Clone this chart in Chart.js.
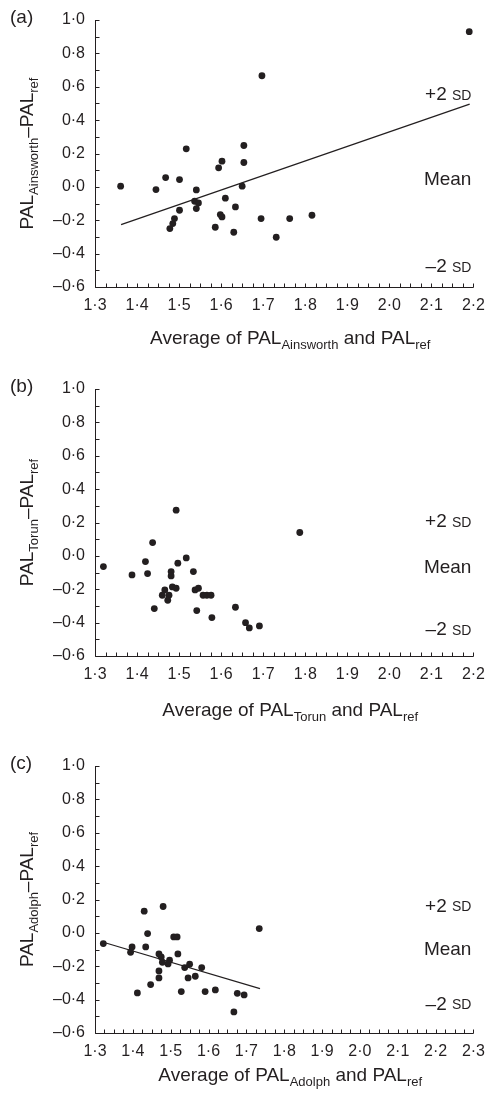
<!DOCTYPE html>
<html>
<head>
<meta charset="utf-8">
<script src="https://cdn.jsdelivr.net/npm/chart.js@4.4.0/dist/chart.umd.min.js"></script>
<style>
  html, body { margin: 0; padding: 0; background: #fff; }
  #wrap { position: relative; width: 494px; height: 1098px; overflow: hidden; }
  canvas { position: absolute; left: 0; }
</style>
</head>
<body>
<div id="wrap">
  <canvas id="chartA" width="494" height="360" style="top:0px;width:494px;height:360px"></canvas>
  <canvas id="chartB" width="494" height="370" style="top:360px;width:494px;height:370px"></canvas>
  <canvas id="chartC" width="494" height="368" style="top:730px;width:494px;height:368px"></canvas>
</div>
<script>
// (a) Ainsworth
var ainsX = [2.190, 1.697, 1.517, 1.654, 1.602, 1.594, 1.654, 1.468, 1.501, 1.361, 1.445, 1.541, 1.650, 1.537, 1.546,
  1.610, 1.541, 1.501, 1.634, 1.489, 1.485, 1.478, 1.598, 1.602, 1.586, 1.630, 1.695, 1.763, 1.816, 1.731];
var ainsY = [0.93, 0.666, 0.228, 0.248, 0.154, 0.114, 0.146, 0.056, 0.044, 0.004, -0.016, -0.018, 0.004, -0.086, -0.096,
  -0.068, -0.13, -0.14, -0.12, -0.19, -0.22, -0.25, -0.166, -0.18, -0.242, -0.272, -0.19, -0.19, -0.17, -0.302];
var ainsFitX = [1.362, 2.191];
var ainsFitY = [-0.226, 0.496];
var ainsRefY = [0.55, 0.04, -0.48]; // +2 SD, Mean, -2 SD labels

// (b) Torun
var torunX = [1.493, 1.787, 1.437, 1.517, 1.420, 1.497, 1.320, 1.425, 1.388, 1.481, 1.481, 1.534, 1.484, 1.493, 1.466,
  1.460, 1.476, 1.473, 1.538, 1.546, 1.557, 1.566, 1.576, 1.441, 1.542, 1.578, 1.634, 1.658, 1.667, 1.691];
var torunY = [0.274, 0.14, 0.08, -0.012, -0.034, -0.044, -0.064, -0.106, -0.114, -0.094, -0.12, -0.094, -0.186, -0.194, -0.204,
  -0.236, -0.236, -0.266, -0.204, -0.194, -0.236, -0.236, -0.236, -0.316, -0.328, -0.37, -0.308, -0.40, -0.432, -0.42];
var torunRefY = [0.205, -0.074, -0.444];

// (c) Adolph
var adolphX = [1.480, 1.430, 1.734, 1.439, 1.508, 1.517, 1.322, 1.398, 1.434, 1.394, 1.469, 1.475, 1.519, 1.478, 1.497, 1.493,
  1.550, 1.537, 1.582, 1.469, 1.565, 1.546, 1.469, 1.447, 1.412, 1.528, 1.591, 1.618, 1.676, 1.694, 1.667];
var adolphY = [0.158, 0.13, 0.026, -0.004, -0.024, -0.024, -0.064, -0.084, -0.084, -0.116, -0.126, -0.144, -0.126, -0.176, -0.164, -0.186,
  -0.188, -0.208, -0.208, -0.228, -0.26, -0.27, -0.27, -0.31, -0.36, -0.352, -0.352, -0.342, -0.362, -0.372, -0.474];
var adolphFitX = [1.322, 1.736];
var adolphFitY = [-0.056, -0.334];
var adolphRefY = [0.158, -0.104, -0.43];

var yTicks = [-0.6, 1.0]; // y range
var refLabels = ["+2", "Mean", "\u20132"];

var FONT = '"Liberation Sans", Arial, Helvetica, sans-serif';
var INK = "#231f20";
Chart.defaults.font.family = FONT;
Chart.defaults.color = INK;

function fmt(v) {
  var s = Math.abs(v).toFixed(1).replace(".", "\u00b7");
  return v < -1e-9 ? "\u2013" + s : s;
}

function pairs(xs, ys) {
  return xs.map(function (x, i) { return { x: x, y: ys[i] }; });
}

// text with a subscript part, e.g. ["PAL", "Ainsworth"]
function drawParts(ctx, parts, x, y, align) {
  var big = "19px " + FONT, small = "13px " + FONT;
  var w = 0;
  parts.forEach(function (p) { ctx.font = p.sub ? small : big; w += ctx.measureText(p.t).width; });
  var cx = align === "center" ? x - w / 2 : x;
  ctx.textAlign = "left";
  ctx.textBaseline = "alphabetic";
  parts.forEach(function (p) {
    ctx.font = p.sub ? small : big;
    ctx.fillText(p.t, cx, p.sub ? y + 5 : y);
    cx += ctx.measureText(p.t).width;
  });
}

var deco = {
  id: "deco",
  afterDraw: function (chart, args, o) {
    var ctx = chart.ctx, xs = chart.scales.x, ys = chart.scales.y, a = chart.chartArea;
    ctx.save();
    ctx.strokeStyle = INK;
    ctx.fillStyle = INK;
    ctx.lineWidth = 1;
    // axes (L shape)
    var x0 = Math.round(a.left) + 0.5, y0 = Math.round(a.bottom) + 0.5;
    ctx.beginPath();
    ctx.moveTo(x0, a.top);
    ctx.lineTo(x0, y0);
    ctx.lineTo(a.right, y0);
    ctx.stroke();
    // inward ticks
    ctx.beginPath();
    for (var v = ys.min; v <= ys.max + 1e-9; v += 0.1) {
      var py = Math.round(ys.getPixelForValue(v)) + 0.5;
      ctx.moveTo(x0, py); ctx.lineTo(x0 + 4, py);
    }
    for (var u = xs.min; u <= xs.max + 1e-9; u += 0.025) {
      var px = Math.round(xs.getPixelForValue(u)) + 0.5;
      ctx.moveTo(px, y0); ctx.lineTo(px, y0 - 4);
    }
    ctx.stroke();
    // panel letter
    ctx.font = "19px " + FONT;
    ctx.textAlign = "left";
    ctx.textBaseline = "middle";
    ctx.fillText(o.letter, 10, a.top - 2);
    // reference labels
    o.refY.forEach(function (v, i) {
      var py = ys.getPixelForValue(v);
      var rx = a.right - 2;
      ctx.textAlign = "right";
      ctx.textBaseline = "middle";
      if (i === 1) {
        ctx.font = "19px " + FONT;
        ctx.fillText(refLabels[i], rx, py);
      } else {
        ctx.font = "14px " + FONT;
        ctx.fillText("SD", rx, py + 1);
        var w = ctx.measureText("SD").width;
        ctx.font = "19px " + FONT;
        ctx.fillText(refLabels[i] + " ", rx - w, py);
      }
    });
    // x title
    drawParts(ctx, [{ t: "Average of PAL" }, { t: o.name, sub: true }, { t: " and PAL" }, { t: "ref", sub: true }],
      (a.left + a.right) / 2 + 6, a.bottom + o.titleGap, "center");
    // y title (rotated)
    ctx.save();
    ctx.translate(33, (a.top + a.bottom) / 2);
    ctx.rotate(-Math.PI / 2);
    drawParts(ctx, [{ t: "PAL" }, { t: o.name, sub: true }, { t: "\u2013PAL" }, { t: "ref", sub: true }], 0, 0, "center");
    ctx.restore();
    ctx.restore();
  }
};

function makePanel(id, pts, fitX, fitY, opt) {
  var canvas = document.getElementById(id);
  var H = canvas.height;
  var datasets = [{
    type: "scatter",
    data: pts,
    backgroundColor: INK,
    borderWidth: 0,
    pointRadius: 3.4,
    pointHoverRadius: 3.4
  }];
  if (fitX) {
    datasets.push({
      type: "line",
      data: pairs(fitX, fitY),
      borderColor: INK,
      borderWidth: 1.2,
      pointRadius: 0,
      fill: false
    });
  }
  return new Chart(canvas.getContext("2d"), {
    type: "scatter",
    data: { datasets: datasets },
    options: {
      responsive: false,
      animation: false,
      events: [],
      layout: { padding: { top: opt.top, right: 19, left: 0, bottom: 0 } },
      plugins: {
        legend: { display: false },
        tooltip: { enabled: false },
        deco: opt
      },
      scales: {
        x: {
          type: "linear",
          min: 1.3,
          max: opt.xMax,
          grid: { display: false, drawTicks: false },
          border: { display: false },
          ticks: { stepSize: 0.1, padding: 9, font: { size: 16 }, color: INK, callback: fmt, maxRotation: 0, autoSkip: false },
          afterFit: function (s) { s.height = H - opt.bottom; }
        },
        y: {
          type: "linear",
          min: yTicks[0],
          max: yTicks[1],
          grid: { display: false, drawTicks: false },
          border: { display: false },
          ticks: { stepSize: 0.2, padding: 10, font: { size: 16 }, color: INK, callback: fmt, autoSkip: false },
          afterFit: function (s) { s.width = 95; }
        }
      }
    },
    plugins: [deco]
  });
}

makePanel("chartA", pairs(ainsX, ainsY), ainsFitX, ainsFitY,
  { letter: "(a)", name: "Ainsworth", refY: ainsRefY, top: 20, bottom: 287, xMax: 2.2, titleGap: 57 });
makePanel("chartB", pairs(torunX, torunY), null, null,
  { letter: "(b)", name: "Torun", refY: torunRefY, top: 29, bottom: 296, xMax: 2.2, titleGap: 60 });
makePanel("chartC", pairs(adolphX, adolphY), adolphFitX, adolphFitY,
  { letter: "(c)", name: "Adolph", refY: adolphRefY, top: 36, bottom: 303, xMax: 2.3, titleGap: 48 });
</script>
</body>
</html>
